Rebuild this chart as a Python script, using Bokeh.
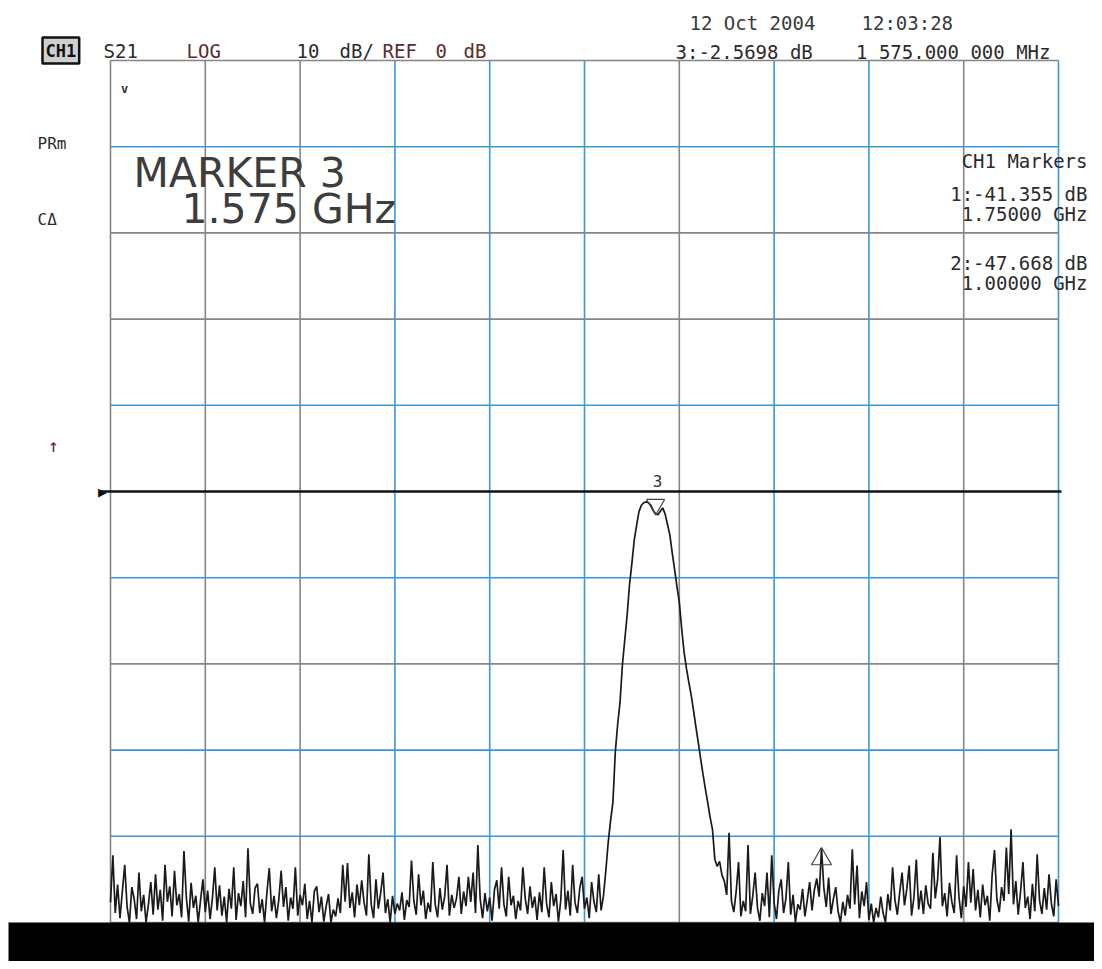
import numpy as np
from bokeh.plotting import figure
from bokeh.models import Label, Range1d, BoxAnnotation
from bokeh.embed import file_html
from bokeh.resources import INLINE

# ---------------- data ----------------
freq_start_ghz = 1.0
freq_stop_ghz = 2.0
db_min, db_max = -50.0, 50.0
ref_db = 0.0

blue_freq_lines = [1.3, 1.4, 1.5, 1.7, 1.8, 2.0]
gray_freq_lines = [1.0, 1.1, 1.2, 1.6, 1.9]
blue_db_lines = [40, 10, -10, -30, -40]
gray_db_lines = [50, 30, 20, -20, -50]

# S21 trace, dB (1.00 - 1.5175 GHz: stop band below)
lower_band_db = [
    -47.67, -42.2, -48.9, -45.6, -49.5, -46.4, -43.3, -48.2, -50.0, -45.9,
    -47.3, -49.6, -44.2, -48.7, -46.8, -50.0, -47.9, -45.3, -49.1, -44.4,
    -48.5, -46.2, -49.8, -43.3, -47.6, -45.8, -49.3, -44.0, -48.0, -46.7,
    -49.4, -41.7, -47.1, -49.9, -45.4, -48.3, -46.9, -50.0, -47.4, -45.0,
    -48.8, -46.3, -49.6, -47.2, -43.6, -48.6, -45.7, -49.2, -47.0, -50.0,
    -46.1, -48.4, -43.6, -49.7, -46.6, -48.1, -45.2, -49.4, -41.4, -47.8,
    -49.0, -46.0, -45.5, -48.9, -47.3, -50.0, -46.5, -43.7, -48.7, -46.9,
    -49.5, -47.4, -44.0, -48.2, -45.9, -49.8, -47.1, -48.4, -43.6, -49.2,
    -46.8, -48.0, -45.5, -49.6, -47.5, -50.0, -46.4, -45.8, -48.8, -47.0,
    -49.9, -48.1, -46.7, -50.0, -48.5, -49.3, -47.2, -48.9, -43.3, -47.6,
    -43.1, -48.3, -46.5, -49.4, -45.6, -48.0, -45.1, -47.7, -49.2, -42.1,
    -47.9, -49.5, -45.0, -48.4, -46.6, -44.2, -48.9, -47.3, -50.0, -46.9,
    -49.0, -47.8, -48.6, -46.5, -49.7, -47.4, -48.2, -42.8, -47.5, -49.1,
    -44.4, -48.0, -46.3, -49.6, -47.7, -48.8, -43.0, -47.9, -49.4, -46.0,
    -48.5, -47.0, -43.3, -49.2, -46.8, -48.3, -47.2, -44.7, -49.0, -46.4,
    -48.1, -44.7, -47.6, -44.2, -48.9, -41.0, -47.3, -49.5, -46.6, -48.7,
    -47.1, -49.8, -46.2, -45.1, -48.4, -43.6, -47.9, -49.3, -44.7, -48.0,
    -46.9, -49.6, -47.5, -48.6, -43.6, -47.2, -49.0, -45.8, -48.3, -47.0,
    -49.7, -46.5, -48.8, -43.6, -47.8, -49.4, -45.3, -48.1, -46.7, -49.9,
    -47.4, -41.6, -48.5, -46.3, -49.2, -43.3, -47.7, -48.9, -46.0, -44.7,
    -48.4, -47.1, -49.5, -45.3, -47.6, -48.8, -44.4,
]
# 1.52 - 1.655 GHz: pass band
pass_band_db = [
    -48.6, -46.9, -44.0, -40.7, -38.2, -36.0, -30.2, -27.0, -24.4, -20.1,
    -17.2, -14.3, -10.8, -8.3, -5.6, -3.9, -2.3, -1.6, -1.3, -1.2,
    -1.3, -1.6, -2.2, -2.57, -2.7, -2.3, -1.9, -2.6, -3.8, -5.0,
    -7.1, -9.0, -11.0, -12.8, -15.9, -18.6, -20.5, -22.1, -23.6, -25.4,
    -27.3, -29.1, -31.0, -32.8, -34.5, -36.1, -37.8, -39.2, -42.7, -43.5,
    -42.9, -44.5, -45.2, -46.8, -39.6, -47.5,
]
# 1.6575 - 2.00 GHz: stop band above
upper_band_db = [
    -48.8, -46.4, -43.0, -49.3, -47.5, -48.7, -41.0, -49.0, -46.9, -44.2,
    -48.3, -49.8, -46.6, -48.1, -44.2, -49.4, -42.2, -47.7, -49.6, -46.3,
    -45.0, -48.9, -47.2, -43.0, -49.1, -46.8, -50.0, -47.9, -48.5, -46.1,
    -49.3, -47.4, -45.3, -48.6, -46.2, -44.9, -47.0, -41.355, -46.0, -48.2,
    -44.8, -49.0, -47.3, -45.9, -48.7, -50.0, -47.6, -49.2, -46.8, -48.4,
    -41.5, -47.9, -43.4, -49.5, -46.4, -48.1, -45.3, -49.7, -47.8, -50.0,
    -48.3, -49.4, -47.0, -48.9, -50.0, -46.7, -48.6, -43.6, -47.4, -49.1,
    -46.5, -44.2, -48.0, -46.1, -43.4, -49.2, -47.1, -42.7, -48.5, -46.3,
    -49.0, -45.7, -47.8, -48.4, -41.9, -47.2, -45.0, -40.1, -48.1, -46.6,
    -49.3, -45.4, -47.6, -48.9, -42.2, -47.0, -49.5, -45.8, -48.2, -43.0,
    -47.7, -43.8, -48.6, -46.2, -49.4, -45.6, -48.0, -46.9, -49.8, -44.5,
    -41.6, -47.3, -48.8, -45.9, -47.5, -41.3, -46.7, -39.2, -47.9, -45.2,
    -49.1, -46.4, -43.0, -48.3, -47.0, -49.6, -45.5, -48.7, -42.1, -47.4,
    -49.0, -46.0, -48.5, -44.4, -47.8, -49.3, -45.0, -48.1,
]

marker_freqs_ghz = [1.75, 1.0, 1.575]
marker_db = [-41.355, -47.668, -2.5698]

trace_db = np.array(lower_band_db + pass_band_db + upper_band_db)
trace_f = np.linspace(freq_start_ghz, freq_stop_ghz, len(trace_db))

# ---------------- layout (canvas pixels -> data) ----------------
W, H = 1094, 961
FL, FR, FT, FB = 110.0, 1058.0, 60.0, 922.0   # graticule edges in canvas px
def fx(px):
    return freq_start_ghz + (px - FL) / (FR - FL) * (freq_stop_ghz - freq_start_ghz)
def fy(py):
    return db_max - (py - FT) / (FB - FT) * (db_max - db_min)
PX_PER_DB = (FB - FT) / (db_max - db_min)

p = figure(width=W, height=H,
           x_range=Range1d(fx(0), fx(W)), y_range=Range1d(fy(H), fy(0)),
           x_axis_location=None, y_axis_location=None,
           toolbar_location=None, output_backend="svg",
           min_border=0, min_border_left=0, min_border_right=0,
           min_border_top=0, min_border_bottom=0,
           background_fill_color="white", border_fill_color="white",
           outline_line_color=None)
p.xgrid.visible = False
p.ygrid.visible = False

BLUE = "#3a98d8"
GRAY = "#858585"

def vlines(freqs, color):
    n = len(freqs)
    p.segment(x0=freqs, y0=[db_min] * n, x1=freqs, y1=[db_max] * n,
              line_color=color, line_width=1.6)

def hlines(levels, color):
    n = len(levels)
    p.segment(x0=[freq_start_ghz] * n, y0=levels, x1=[freq_stop_ghz] * n, y1=levels,
              line_color=color, line_width=1.6)

vlines(gray_freq_lines, GRAY)
vlines(blue_freq_lines, BLUE)
hlines(gray_db_lines, GRAY)
hlines(blue_db_lines, BLUE)

# reference line (REF 0 dB)
p.segment(x0=[fx(100)], y0=[ref_db], x1=[fx(1061)], y1=[ref_db],
          line_color="#111111", line_width=2.4)

# trace
p.line(trace_f, trace_db, line_color="#1a1a1a", line_width=1.7)

# markers
p.scatter([marker_freqs_ghz[2]], [marker_db[2] + 9 / PX_PER_DB], marker="inverted_triangle",
          size=18, fill_color=None, line_color="#444444", line_width=1.2)
p.scatter([marker_freqs_ghz[0]], [marker_db[0] - 11 / PX_PER_DB], marker="triangle",
          size=20, fill_color=None, line_color="#444444", line_width=1.2)

# black band under the printout
p.add_layout(BoxAnnotation(top=db_min, left=fx(8), fill_color="black", fill_alpha=1.0,
                           line_color=None, level="overlay"))

MONO = "DejaVu Sans Mono"
def lab(px, py, text, size="19px", align="left", color="#2b2b2b", font=MONO, style="normal", **kw):
    p.add_layout(Label(x=fx(px), y=fy(py), text=text, text_font=font, text_font_size=size,
                       text_align=align, text_baseline="middle", text_color=color,
                       text_font_style=style, **kw))

# header
lab(42, 50, "CH1", size="17px", color="#111111", style="bold",
    border_line_color="#111111", border_line_width=2.5, background_fill_color="#cfcfcf",
    padding=3)
lab(103, 50, "S21")
lab(186, 50, "LOG", color="#5a2c2c")
lab(296, 50, "10")
lab(339, 50, "dB/")
lab(382, 50, "REF", color="#5a2c2c")
lab(435, 50, "0", color="#5a2c2c")
lab(463, 50, "dB", color="#5a2c2c")
lab(689, 22, "12 Oct 2004", color="#3a3a3a")
lab(861, 22, "12:03:28", color="#3a3a3a")
lab(675, 51, "3:-2.5698 dB")
lab(1050, 51, "1 575.000 000 MHz", align="right")

# left annotations
lab(37, 143, "PRm", size="16px")
lab(37, 219, "C\u0394", size="16px")
lab(53, 445, "\u2191", size="18px", align="center", color="#5a2c2c")
lab(102, 491, "\u25B6", size="15px", align="center", color="#111111")
lab(124, 88, "v", size="12px", align="center", color="#333333", style="bold")

# marker box text
lab(133, 172, "MARKER 3", size="41px", font="DejaVu Sans", color="#3d3d3d")
lab(181, 208, "1.575 GHz", size="41px", font="DejaVu Sans", color="#3d3d3d")

# marker 3 label
lab(657, 480, "3", size="16px", align="center", color="#333333")

# right marker table
lab(1087, 160, "CH1 Markers", align="right")
lab(1087, 193, "1:-41.355 dB", align="right")
lab(1087, 213, "1.75000 GHz", align="right")
lab(1087, 262, "2:-47.668 dB", align="right")
lab(1087, 282, "1.00000 GHz", align="right")

open("out.html", "w").write(file_html(p, INLINE))
